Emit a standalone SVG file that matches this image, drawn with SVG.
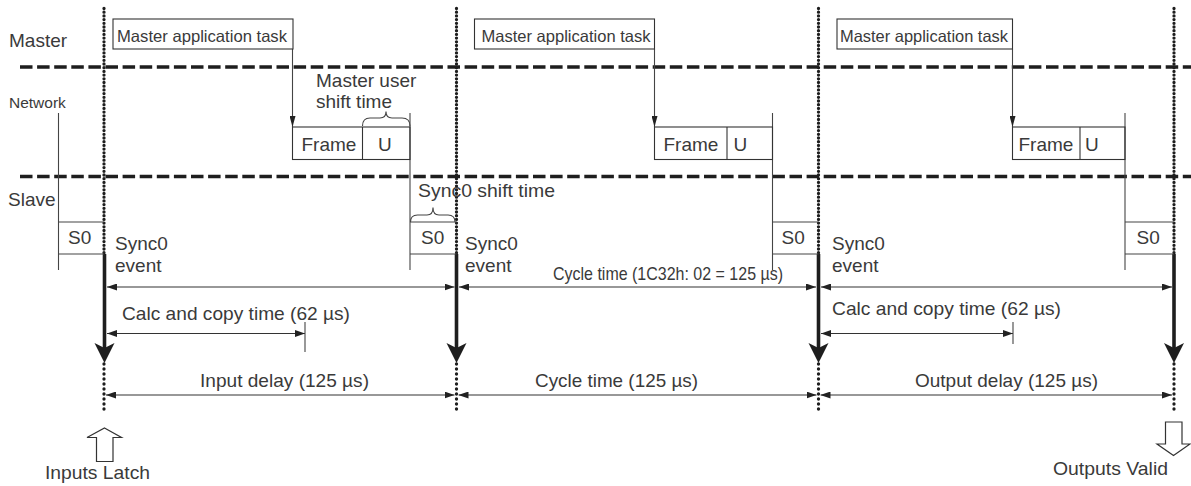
<svg xmlns="http://www.w3.org/2000/svg" xmlns:xlink="http://www.w3.org/1999/xlink" width="1191" height="486" viewBox="0 0 1191 486">
<style>
text{font-family:"Liberation Sans",Arial,Helvetica,sans-serif;fill:#3a3a3a;font-size:19px}
.sm{font-size:16.5px}
.net{font-size:15.5px}
.box{fill:none;stroke:#333;stroke-width:1.1}
.thin{fill:none;stroke:#444;stroke-width:1.1}
.dot{fill:none;stroke:#1e1e1e;stroke-width:3.3;stroke-linecap:round}
.dash{fill:none;stroke:#1e1e1e;stroke-width:3.6;stroke-dasharray:12.5 4.6}
.thick{fill:none;stroke:#1e1e1e;stroke-width:3.6}
.dim{fill:none;stroke:#333;stroke-width:1.1;marker-start:url(#dimArrow);marker-end:url(#dimArrow)}
.hollow{fill:#fff;stroke:#333;stroke-width:1.2}
</style>
<defs>
<marker id="dimArrow" markerUnits="userSpaceOnUse" markerWidth="10" markerHeight="7" refX="10" refY="3.5" orient="auto-start-reverse"><path d="M0,0 L10,3.5 L0,7 Z" fill="#222"/></marker>
<marker id="taskArrow" markerUnits="userSpaceOnUse" markerWidth="11" markerHeight="6" refX="11" refY="3" orient="auto"><path d="M0,0 L11,3 L0,6 Z" fill="#222"/></marker>
<path id="bigHead" d="M0,0 L-10,-20 L0,-15 L10,-20 Z" fill="#1e1e1e"/>
</defs>

<g id="lane-labels">
<text x="9" y="47">Master</text>
<text class="net" x="9" y="108">Network</text>
<text x="8" y="206">Slave</text>
</g>

<g id="connectors">
<line class="dash" x1="20" y1="67" x2="1191" y2="67"/>
<line class="dash" x1="20" y1="176.5" x2="1191" y2="176.5"/>
<g class="dot">
<line x1="104" y1="8.5" x2="104" y2="254" stroke-dasharray="0 3.7"/>
<line x1="456.5" y1="8.5" x2="456.5" y2="254" stroke-dasharray="0 3.7"/>
<line x1="818.5" y1="8.5" x2="818.5" y2="254" stroke-dasharray="0 3.7"/>
<line x1="1174" y1="8.5" x2="1174" y2="254" stroke-dasharray="0 3.7"/>
<line x1="104" y1="364" x2="104" y2="414" stroke-dasharray="0 5"/>
<line x1="456.5" y1="364" x2="456.5" y2="414" stroke-dasharray="0 5"/>
<line x1="818.5" y1="364" x2="818.5" y2="414" stroke-dasharray="0 5"/>
<line x1="1174" y1="364" x2="1174" y2="414" stroke-dasharray="0 5"/>
</g>
<line class="thick" x1="104.5" y1="254" x2="104.5" y2="349"/>
<line class="thick" x1="456.5" y1="254" x2="456.5" y2="349"/>
<line class="thick" x1="818.5" y1="254" x2="818.5" y2="349"/>
<line class="thick" x1="1174" y1="254" x2="1174" y2="349"/>
<use xlink:href="#bigHead" x="104.5" y="363"/>
<use xlink:href="#bigHead" x="456.5" y="363"/>
<use xlink:href="#bigHead" x="818.5" y="363"/>
<use xlink:href="#bigHead" x="1174" y="363"/>
<line class="thin" x1="292.5" y1="49" x2="292.5" y2="127" marker-end="url(#taskArrow)"/>
<line class="thin" x1="654.5" y1="49" x2="654.5" y2="127" marker-end="url(#taskArrow)"/>
<line class="thin" x1="1012.5" y1="49" x2="1012.5" y2="127" marker-end="url(#taskArrow)"/>
<line class="thin" x1="58.5" y1="113" x2="58.5" y2="270"/>
<line class="thin" x1="410" y1="113" x2="410" y2="270"/>
<line class="thin" x1="772.5" y1="113" x2="772.5" y2="270"/>
<line class="thin" x1="1125" y1="113" x2="1125" y2="270"/>
<line class="dim" x1="107" y1="287" x2="454.5" y2="287"/>
<line class="dim" x1="459" y1="287" x2="816" y2="287"/>
<line class="dim" x1="821" y1="287" x2="1172" y2="287"/>
<line class="dim" x1="107" y1="333.5" x2="305" y2="333.5"/>
<line class="thin" x1="305" y1="322" x2="305" y2="352"/>
<line class="dim" x1="821" y1="333.5" x2="1013" y2="333.5"/>
<line class="thin" x1="1013" y1="322" x2="1013" y2="344"/>
<line class="dim" x1="106" y1="395" x2="454.5" y2="395"/>
<line class="dim" x1="458.5" y1="395" x2="816.5" y2="395"/>
<line class="dim" x1="820.5" y1="395" x2="1172" y2="395"/>
</g>

<g id="master-task-1">
<rect class="box" x="113" y="19" width="180" height="30"/>
<text class="sm" x="117" y="42" textLength="170" lengthAdjust="spacingAndGlyphs">Master application task</text>
</g>
<g id="master-task-2">
<rect class="box" x="474.5" y="19" width="180" height="30"/>
<text class="sm" x="481.5" y="42" textLength="169" lengthAdjust="spacingAndGlyphs">Master application task</text>
</g>
<g id="master-task-3">
<rect class="box" x="837" y="19" width="175.5" height="30"/>
<text class="sm" x="840" y="42" textLength="168" lengthAdjust="spacingAndGlyphs">Master application task</text>
</g>

<g id="frame-1">
<rect class="box" x="292.5" y="127" width="117.5" height="32.5"/>
<line class="box" x1="362.5" y1="127" x2="362.5" y2="159.5"/>
<text x="301.5" y="151" font-size="17.5">Frame</text>
<text x="378" y="151" font-size="17.5">U</text>
</g>
<g id="frame-2">
<rect class="box" x="654.5" y="127" width="118" height="32.5"/>
<line class="box" x1="727" y1="127" x2="727" y2="159.5"/>
<text x="663.5" y="151" font-size="17.5">Frame</text>
<text x="733.5" y="151" font-size="17.5">U</text>
</g>
<g id="frame-3">
<rect class="box" x="1012.5" y="127" width="112.5" height="32.5"/>
<line class="box" x1="1080" y1="127" x2="1080" y2="159.5"/>
<text x="1018.5" y="151" font-size="17.5">Frame</text>
<text x="1085" y="151" font-size="17.5">U</text>
</g>

<g id="master-user-shift">
<text x="316" y="87" font-size="18">Master user</text>
<text x="316" y="108" font-size="18">shift time</text>
<path class="thin" d="M362.5,126 Q362.5,118 370,118 L380,118 Q386,118 386,111.5 Q386,118 392,118 L402,118 Q410,118 410,126"/>
</g>

<g id="sync0-shift">
<text x="418" y="197" textLength="137" lengthAdjust="spacingAndGlyphs">Sync0 shift time</text>
<path class="thin" d="M410.5,222 Q410.5,215 417.5,215 L427,215 Q433,215 433,207.5 Q433,215 439,215 L448,215 Q455,215 455,222"/>
</g>

<g id="s0-0">
<line class="thin" x1="58.5" y1="222" x2="104" y2="222"/>
<line class="thin" x1="58.5" y1="254" x2="104" y2="254"/>
<text x="68" y="244" font-size="18">S0</text>
</g>
<g id="s0-1">
<line class="thin" x1="410" y1="222" x2="456.5" y2="222"/>
<line class="thin" x1="410" y1="254" x2="456.5" y2="254"/>
<text x="421" y="244" font-size="18">S0</text>
</g>
<g id="s0-2">
<line class="thin" x1="772.5" y1="222" x2="818.5" y2="222"/>
<line class="thin" x1="772.5" y1="254" x2="818.5" y2="254"/>
<text x="781.5" y="244" font-size="18">S0</text>
</g>
<g id="s0-3">
<line class="thin" x1="1125" y1="222" x2="1174" y2="222"/>
<line class="thin" x1="1125" y1="254" x2="1174" y2="254"/>
<text x="1136.5" y="244" font-size="18">S0</text>
</g>

<g id="sync0-event-1">
<text x="115" y="250">Sync0</text>
<text x="115" y="272">event</text>
</g>
<g id="sync0-event-2">
<text x="465" y="250">Sync0</text>
<text x="465" y="272">event</text>
</g>
<g id="sync0-event-3">
<text x="832" y="250">Sync0</text>
<text x="832" y="272">event</text>
</g>

<g id="dimension-labels">
<text x="553" y="280" font-size="18" textLength="230" lengthAdjust="spacingAndGlyphs">Cycle time (1C32h: 02 = 125 µs)</text>
<text x="122" y="320" textLength="228" lengthAdjust="spacingAndGlyphs">Calc and copy time (62 µs)</text>
<text x="832" y="315" textLength="229" lengthAdjust="spacingAndGlyphs">Calc and copy time (62 µs)</text>
<text x="200" y="387" textLength="169" lengthAdjust="spacingAndGlyphs">Input delay (125 µs)</text>
<text x="535" y="387" textLength="163" lengthAdjust="spacingAndGlyphs">Cycle time (125 µs)</text>
<text x="915" y="387" textLength="183" lengthAdjust="spacingAndGlyphs">Output delay (125 µs)</text>
</g>

<g id="inputs-latch">
<path class="hollow" d="M104.5,428 L121.5,437.5 L113,437.5 L113,461.5 L96.5,461.5 L96.5,437.5 L87,437.5 Z"/>
<text x="45" y="479" textLength="105" lengthAdjust="spacingAndGlyphs">Inputs Latch</text>
</g>
<g id="outputs-valid">
<path class="hollow" d="M1165.5,422 L1182,422 L1182,444 L1190,444 L1173.5,455.5 L1157,444 L1165.5,444 Z"/>
<text x="1053" y="475" textLength="115" lengthAdjust="spacingAndGlyphs">Outputs Valid</text>
</g>
</svg>
